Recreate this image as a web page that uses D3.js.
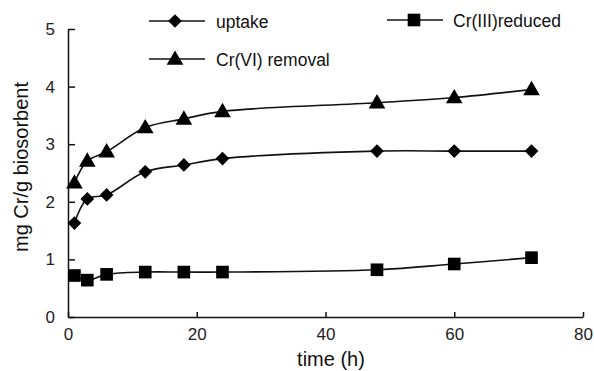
<!DOCTYPE html>
<html>
<head>
<meta charset="utf-8">
<script src="https://cdn.jsdelivr.net/npm/d3@7"></script>
<style>
  body { margin: 0; background: #fff; }
  svg { font-family: "Liberation Sans", Arial, sans-serif; }
</style>
</head>
<body>
<div id="vis"></div>
<script>
const FRAME_WIDTH = 594;
const FRAME_HEIGHT = 371;
const MARGINS = {left: 68, right: 11, top: 29, bottom: 54};

// data
const times = [1, 3, 6, 12, 18, 24, 48, 60, 72];
const uptake = [1.63, 2.05, 2.12, 2.52, 2.64, 2.75, 2.88, 2.88, 2.88];
const crVIremoval = [2.33, 2.71, 2.87, 3.29, 3.44, 3.57, 3.72, 3.81, 3.95];
const crIIIreduced = [0.72, 0.64, 0.74, 0.78, 0.78, 0.78, 0.82, 0.92, 1.03];
const xTicks = [0, 20, 40, 60, 80];
const yTicks = [0, 1, 2, 3, 4, 5];

const VIS_WIDTH = FRAME_WIDTH - MARGINS.left - MARGINS.right;
const VIS_HEIGHT = FRAME_HEIGHT - MARGINS.top - MARGINS.bottom;

const FRAME = d3.select("#vis")
  .append("svg")
    .attr("width", FRAME_WIDTH)
    .attr("height", FRAME_HEIGHT);

const X_SCALE = d3.scaleLinear().domain([0, 80]).range([MARGINS.left, MARGINS.left + VIS_WIDTH]);
const Y_SCALE = d3.scaleLinear().domain([0, 5]).range([MARGINS.top + VIS_HEIGHT, MARGINS.top]);

// axes, ticks pointing inward
const xAxis = FRAME.append("g")
    .attr("transform", "translate(0," + (MARGINS.top + VIS_HEIGHT) + ")")
    .call(d3.axisBottom(X_SCALE).tickValues(xTicks).tickFormat(d3.format("d"))
      .tickSizeInner(-5).tickSizeOuter(0).tickPadding(11));
const yAxis = FRAME.append("g")
    .attr("transform", "translate(" + MARGINS.left + ",0)")
    .call(d3.axisLeft(Y_SCALE).tickValues(yTicks).tickFormat(d3.format("d"))
      .tickSizeInner(-7).tickSizeOuter(0).tickPadding(13));

[xAxis, yAxis].forEach(a => {
  a.select(".domain").attr("stroke", "#111").attr("stroke-width", 1.5);
  a.selectAll(".tick line").attr("stroke", "#111").attr("stroke-width", 1.5);
  a.selectAll("text").attr("font-size", "17px").attr("fill", "#222")
    .attr("font-family", "Liberation Sans, Arial, sans-serif");
});

// axis titles
FRAME.append("text")
    .attr("x", 331).attr("y", 366)
    .attr("text-anchor", "middle")
    .attr("font-size", "20px").attr("fill", "#111")
    .text("time (h)");
FRAME.append("text")
    .attr("transform", "translate(28,167) rotate(-90)")
    .attr("text-anchor", "middle")
    .attr("font-size", "20px").attr("fill", "#111")
    .text("mg Cr/g biosorbent");

// marker shapes
const markers = {
  diamond: d3.symbol().type(d3.symbolDiamond2).size(120),
  square: d3.symbol().type(d3.symbolSquare).size(160),
  triangle: d3.symbol().type(d3.symbolTriangle).size(120)
};

const series = [
  {name: "uptake", values: uptake, marker: "diamond"},
  {name: "Cr(III)reduced", values: crIIIreduced, marker: "square"},
  {name: "Cr(VI) removal", values: crVIremoval, marker: "triangle"}
];

const line = d3.line()
    .x((d, i) => X_SCALE(times[i]))
    .y(d => Y_SCALE(d))
    .curve(d3.curveCatmullRom.alpha(0.5));

series.forEach(s => {
  FRAME.append("path")
      .attr("d", line(s.values))
      .attr("fill", "none")
      .attr("stroke", "#111")
      .attr("stroke-width", 1.6);
  FRAME.selectAll(null)
      .data(s.values)
      .enter()
      .append("path")
        .attr("d", markers[s.marker])
        .attr("transform", (d, i) => "translate(" + X_SCALE(times[i]) + "," + (Y_SCALE(d) + (s.marker === "triangle" ? 1 : 0)) + ")")
        .attr("fill", "#000");
});

// legend
const legendPos = [
  {x: 149, y: 21},
  {x: 387, y: 20},
  {x: 149, y: 59}
];
series.forEach((s, i) => {
  const p = legendPos[i];
  const g = FRAME.append("g").attr("transform", "translate(" + p.x + "," + p.y + ")");
  g.append("line").attr("x1", 0).attr("x2", 56).attr("y1", 0).attr("y2", 0)
      .attr("stroke", "#111").attr("stroke-width", 1.6);
  g.append("path").attr("d", markers[s.marker])
      .attr("transform", "translate(" + (i === 1 ? 27 : 26) + "," + (s.marker === "triangle" ? 1 : 0) + ")")
      .attr("fill", "#000");
  g.append("text").attr("x", i === 1 ? 66 : 67).attr("y", 6.5)
      .attr("font-size", "17.5px").attr("fill", "#111")
      .text(s.name);
});
</script>
</body>
</html>
